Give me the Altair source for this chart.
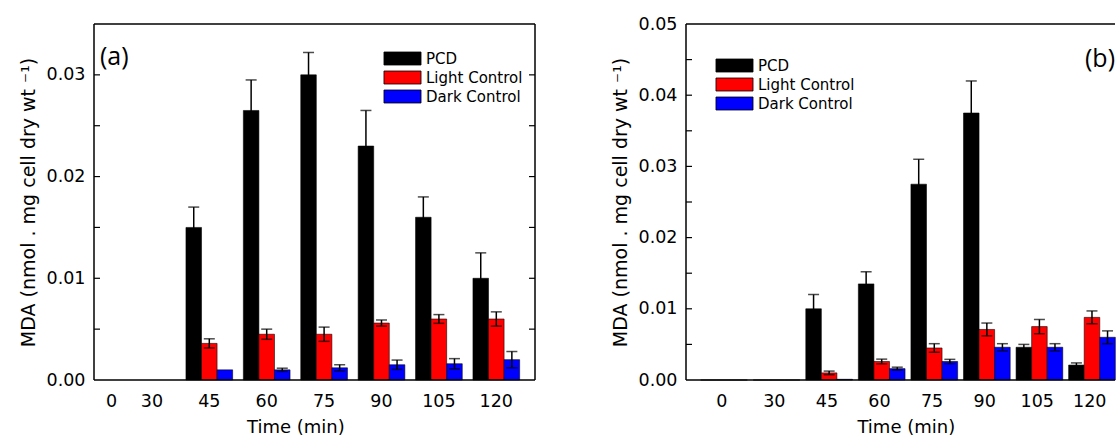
import altair as alt
import pandas as pd

times = ["0", "30", "45", "60", "75", "90", "105", "120"]
series = ["PCD", "Light Control", "Dark Control"]
colors = ["#000000", "#ff0000", "#0000ff"]

# Panel (a)
a_pcd = [None, None, 0.0150, 0.0265, 0.0300, 0.0230, 0.0160, 0.0100]
a_pcd_err = [None, None, 0.0020, 0.0030, 0.0022, 0.0035, 0.0020, 0.0025]
a_light = [None, None, 0.0036, 0.0045, 0.0045, 0.0056, 0.0060, 0.0060]
a_light_err = [None, None, 0.00045, 0.0005, 0.0007, 0.0003, 0.00043, 0.0007]
a_dark = [None, None, 0.0010, 0.0010, 0.0012, 0.0015, 0.0016, 0.0020]
a_dark_err = [None, None, 0.0, 0.00016, 0.0003, 0.00046, 0.0005, 0.0008]

# Panel (b)
b_pcd = [0.0, 0.0, 0.0100, 0.0135, 0.0275, 0.0375, 0.0046, 0.0021]
b_pcd_err = [0.0, 0.0, 0.0020, 0.0017, 0.0035, 0.0045, 0.0004, 0.0003]
b_light = [0.0, 0.0, 0.0010, 0.0026, 0.0045, 0.0071, 0.0075, 0.0088]
b_light_err = [0.0, 0.0, 0.00025, 0.00033, 0.0006, 0.0009, 0.0010, 0.0009]
b_dark = [0.0, 0.0, 0.0001, 0.0016, 0.0026, 0.0046, 0.0046, 0.0060]
b_dark_err = [0.0, 0.0, 0.0, 0.0002, 0.0003, 0.0005, 0.0005, 0.0009]

a_yticks = [0.0, 0.01, 0.02, 0.03]
a_minor = [0.005, 0.01, 0.015, 0.02, 0.025, 0.03]
b_yticks = [0.0, 0.01, 0.02, 0.03, 0.04, 0.05]
b_minor = [0.005, 0.01, 0.015, 0.02, 0.025, 0.03, 0.035, 0.04, 0.045]

ytitle = "MDA (nmol . mg cell dry wt \u207b\u00b9)"
FONT = "DejaVu Sans"


def table(vals, errs):
    rows = []
    for s, v, e in zip(series, vals, errs):
        for t, vi, ei in zip(times, v, e):
            if vi is None:
                continue
            rows.append({"Time": t, "Series": s, "value": vi, "err": ei})
    return pd.DataFrame(rows)


def panel(df, W, H, ymax, yvals, minor, xrange, pinner, lx, ly, tag, tx, ty,
          right_side, label_offset):
    xscale = alt.Scale(domain=times, range=xrange, paddingInner=pinner, paddingOuter=0)
    axkw = dict(title="Time (min)", ticks=False, domain=False, labelAngle=0,
                labelPadding=12, titlePadding=9, titleFontSize=18)
    if label_offset is not None:
        axkw["labelOffset"] = label_offset
    xaxis = alt.Axis(**axkw)
    xo = alt.XOffset("Series:N", sort=series, scale=alt.Scale(domain=series))
    ysc = alt.Scale(domain=[0, ymax], nice=False, zero=True)
    yaxis = alt.Axis(title=ytitle, values=yvals, format=".2f", ticks=False, domain=False,
                     grid=False, labelPadding=9, titlePadding=8, titleFontSize=19)
    xe = alt.X("Time:N", sort=times, scale=xscale, axis=xaxis)

    bars = alt.Chart(df).mark_bar(stroke="#000", strokeWidth=0.8, strokeOpacity=0.7).encode(
        x=xe,
        xOffset=xo,
        y=alt.Y("value:Q", scale=ysc, axis=yaxis),
        color=alt.Color("Series:N", sort=series,
                        scale=alt.Scale(domain=series, range=colors),
                        legend=alt.Legend(orient="none", legendX=lx, legendY=ly, title=None,
                                          symbolType="M-2.85,-1H2.85V1H-2.85Z",
                                          symbolSize=169, symbolStrokeColor="#000",
                                          symbolStrokeWidth=0.8, symbolOpacity=1,
                                          labelFont=FONT, labelFontSize=15,
                                          labelColor="black", rowPadding=2,
                                          labelOffset=16, padding=0)),
    )
    eb = alt.Chart(df).transform_filter("datum.err > 0").transform_calculate(
        lo="datum.value - datum.err", hi="datum.value + datum.err")
    rule = eb.mark_rule(color="black", strokeWidth=1.5).encode(
        x=xe, xOffset=xo, y=alt.Y("lo:Q", scale=ysc, axis=yaxis), y2="hi:Q")
    cap_hi = eb.mark_tick(color="black", size=11, thickness=1.5).encode(
        x=xe, xOffset=xo, y=alt.Y("hi:Q", scale=ysc, axis=yaxis))
    cap_lo = eb.mark_tick(color="black", size=11, thickness=1.5).encode(
        x=xe, xOffset=xo, y=alt.Y("lo:Q", scale=ysc, axis=yaxis))

    frame_df = pd.DataFrame({"k": [0]})
    fr = alt.Chart(frame_df).mark_rule(color="black", strokeWidth=1.5)
    top = fr.encode(x=alt.value(0), x2=alt.value(W), y=alt.value(0))
    bottom = fr.encode(x=alt.value(0), x2=alt.value(W), y=alt.value(H))
    left = fr.encode(x=alt.value(0), y=alt.value(0), y2=alt.value(H))
    layers = [bars, rule, cap_hi, cap_lo, top, bottom, left]

    tick_df = pd.DataFrame({"t": minor})
    lt = alt.Chart(tick_df).mark_rule(color="black", strokeWidth=1.2).encode(
        y=alt.Y("t:Q", scale=ysc, axis=yaxis), x=alt.value(0), x2=alt.value(6))
    layers.append(lt)
    if right_side:
        layers.append(fr.encode(x=alt.value(W), y=alt.value(0), y2=alt.value(H)))
        rt = alt.Chart(tick_df).mark_rule(color="black", strokeWidth=1.2).encode(
            y=alt.Y("t:Q", scale=ysc, axis=yaxis), x=alt.value(W - 6), x2=alt.value(W))
        layers.append(rt)

    tag_chart = alt.Chart(pd.DataFrame({"tag": [tag]})).mark_text(
        font="Open Sans", fontSize=25, align="left", baseline="alphabetic",
        color="black", clip=True).encode(x=alt.value(tx), y=alt.value(ty), text="tag:N")
    layers.append(tag_chart)
    return alt.layer(*layers).properties(width=W, height=H)


H = 356
left_panel = panel(table([a_pcd, a_light, a_dark], [a_pcd_err, a_light_err, a_dark_err]),
                   441, H, 0.035, a_yticks, a_minor, [-22.85, 425.65], 0.1864,
                   301, 27, "(a)", 6, 41, True,
                   alt.condition("datum.value === '0'", alt.value(17), alt.value(0)))
right_panel = panel(table([b_pcd, b_light, b_dark], [b_pcd_err, b_light_err, b_dark_err]),
                    429, H, 0.05, b_yticks, b_minor, [14.65, 424.95], 0.195,
                    41, 34, "(b)", 399, 43, False, None)

chart = alt.hconcat(left_panel, right_panel, spacing=68).resolve_scale(
    color="independent").properties(
    padding={"left": 19, "top": 15, "right": 0, "bottom": 0}
).configure_view(stroke=None).configure_axis(
    labelFont=FONT, labelFontSize=17.5, labelColor="black",
    titleFont=FONT, titleFontWeight="normal", titleColor="black", grid=False)

chart.save("out.html", embed_options={"renderer": "svg", "actions": False})
